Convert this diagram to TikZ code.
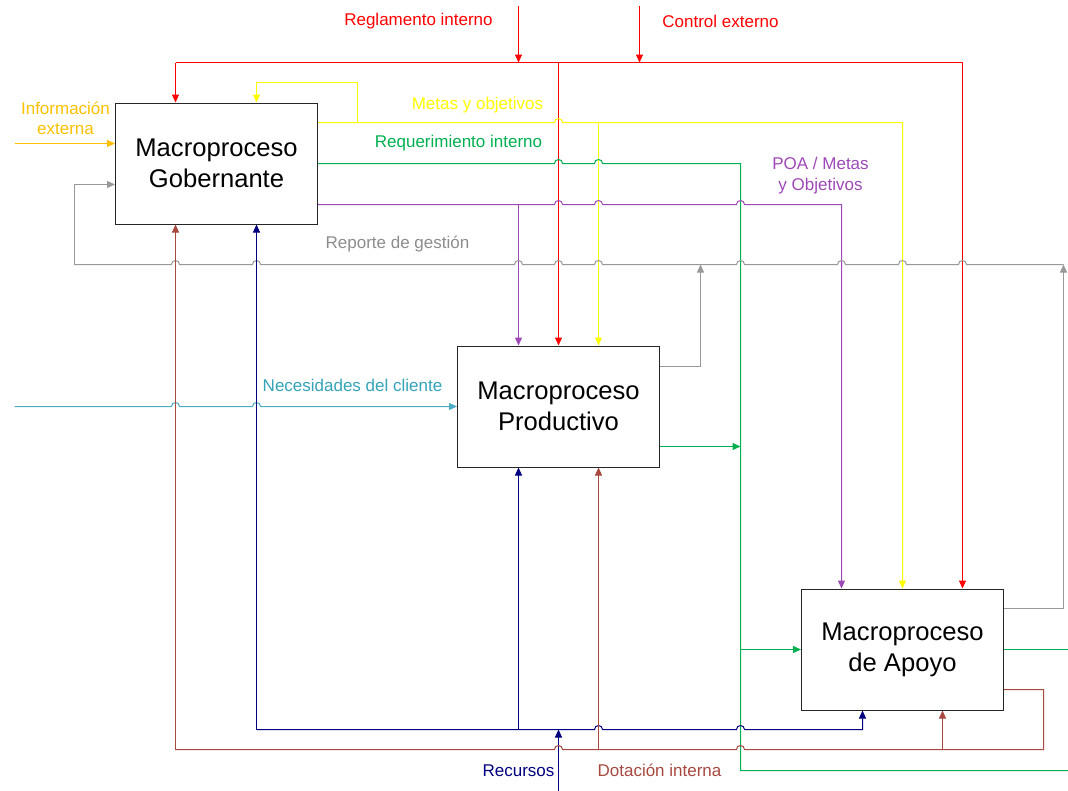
\documentclass[tikz,border=0pt]{standalone}
\usepackage{fontspec}
\setmainfont{Liberation Sans}
\usetikzlibrary{arrows.meta,calc}

\definecolor{cred}{HTML}{FF0000}
\definecolor{cyel}{HTML}{FFFF00}
\definecolor{cgrn}{HTML}{00B050}
\definecolor{cpur}{HTML}{9E48B8}
\definecolor{cgry}{HTML}{999999}
\definecolor{cgrytx}{HTML}{8C8C8C}
\definecolor{corg}{HTML}{FFC000}
\definecolor{ctea}{HTML}{4BACC6}
\definecolor{cteatx}{HTML}{34A3B8}
\definecolor{cnav}{HTML}{000080}
\definecolor{cbrn}{HTML}{A8483F}

% small upward bump where a horizontal line passes over a vertical one
\newcommand\hopr[2]{-- (#1-4,#2) .. controls (#1-4,#2-5.3) and (#1+4,#2-5.3) .. (#1+4,#2)}

\begin{document}
\begin{tikzpicture}[x=1pt,y=-1pt,
  box/.style={draw=black!85,line width=1pt,fill=white,minimum width=202pt,
    minimum height=121pt,inner sep=0pt,align=center,
    font=\fontsize{25.6}{31}\selectfont},
  lab/.style={inner sep=0pt,align=center,font=\fontsize{17}{20.5}\selectfont},
  flow/.style={line width=1pt},
  arr/.style={flow,-{Triangle[length=8pt,width=7pt]}}]

\useasboundingbox (-0.5,-0.5) rectangle (1067.5,789.5);

% process boxes
\node[box] (gob)  at (216,163) {Macroproceso\\Gobernante};
\node[box] (prod) at (558,406) {Macroproceso\\Productivo};
\node[box] (apo)  at (902,649) {Macroproceso\\de Apoyo};

% free ends and bus junctions
\coordinate (inReg) at (518,5);
\coordinate (inCtl) at (639,5);
\coordinate (jReg)  at (518,62);
\coordinate (jCtl)  at (639,62);
\coordinate (busRL) at (175,62);
\coordinate (busRR) at (962,62);
\coordinate (jRP)   at (558,62);
\coordinate (inInfo) at (14,143);
\coordinate (inNec)  at (14,406);
\coordinate (inRec)  at (558,790);
\coordinate (jRec)   at (558,729);
\coordinate (outA)   at (1068,649);
\coordinate (outB)   at (1068,770);

% red: control inputs
\draw[cred,arr] (inReg) -- (jReg);
\draw[cred,arr] (inCtl) -- (jCtl);
\draw[cred,flow] (busRL) -- (busRR);
\draw[cred,arr] (busRL) -- ($(gob.north)+(-41,0)$);
\draw[cred,arr] (busRR) -- ($(apo.north)+(60,0)$);
\draw[cred,arr] (jRP) -- (prod.north);

% yellow: goals and objectives
\draw[cyel,arr] ($(gob.east)+(0,-41)$) \hopr{558}{122} -| (apo.north);
\draw[cyel,arr] (598,122) -- ($(prod.north)+(40,0)$);
\draw[cyel,arr] (357,122) |- (256,82) -- ($(gob.north)+(40,0)$);

% green: internal requirement
\draw[cgrn,flow] (gob.east) \hopr{558}{163}\hopr{598}{163} -| (740,770) -- (outB);
\draw[cgrn,arr] ($(prod.east)+(0,40)$) -- (740,446);
\draw[cgrn,arr] (740,649) -- (apo.west);
\draw[cgrn,flow] (apo.east) -- (outA);

% purple: POA / goals
\draw[cpur,arr] ($(gob.east)+(0,41)$) \hopr{558}{204}\hopr{598}{204}\hopr{740}{204}
  -| ($(apo.north)+(-61,0)$);
\draw[cpur,arr] (518,204) -- ($(prod.north)+(-40,0)$);

% gray: management report
\draw[cgry,flow] (74,264) \hopr{175}{264}\hopr{256}{264}\hopr{518}{264}\hopr{558}{264}
  \hopr{598}{264}\hopr{740}{264}\hopr{841}{264}\hopr{902}{264}\hopr{962}{264} -- (1063,264);
\draw[cgry,arr] (74,264) |- ($(gob.west)+(0,21)$);
\draw[cgry,arr] ($(prod.east)+(0,-40)$) -| (700,264);
\draw[cgry,arr] ($(apo.east)+(0,-41)$) -| (1063,264);

% orange: external information
\draw[corg,arr] (inInfo) -- ($(gob.west)+(0,-20)$);

% teal: customer needs
\draw[ctea,arr] (inNec) \hopr{175}{406}\hopr{256}{406} -- (prod.west);

% navy: resources
\draw[cnav,arr] (256,729) \hopr{598}{729}\hopr{740}{729} -| ($(apo.south)+(-40,0)$);
\draw[cnav,arr] (256,729) -- ($(gob.south)+(40,0)$);
\draw[cnav,arr] (518,729) -- ($(prod.south)+(-40,0)$);
\draw[cnav,arr] (inRec) -- (jRec);

% brown: internal staffing
\draw[cbrn,flow] (175,749) \hopr{558}{749}\hopr{740}{749} -- (1043,749) |- ($(apo.east)+(0,40)$);
\draw[cbrn,arr] (175,749) -- ($(gob.south)+(-41,0)$);
\draw[cbrn,arr] (598,749) -- ($(prod.south)+(40,0)$);
\draw[cbrn,arr] (942,749) -- ($(apo.south)+(40,0)$);

% labels
\node[lab,text=cred] (lReg) at (418,21) {Reglamento interno};
\node[lab,text=cred] (lCtl) at (720,21) {Control externo};
\node[lab,text=corg] (lInf) at (65,118) {Información\\externa};
\node[lab,text=cyel] (lMet) at (477,105) {Metas y objetivos};
\node[lab,text=cgrn] (lReq) at (458,143) {Requerimiento interno};
\node[lab,text=cpur] (lPoa) at (820,175) {POA / Metas\\y Objetivos};
\node[lab,text=cgrytx] (lRep) at (397,244) {Reporte de gestión};
\node[lab,text=cteatx] (lNec) at (352,385) {Necesidades del cliente};
\node[lab,text=cnav] (lRec) at (518,770) {Recursos};
\node[lab,text=cbrn] (lDot) at (659,770) {Dotación interna};
\end{tikzpicture}
\end{document}
